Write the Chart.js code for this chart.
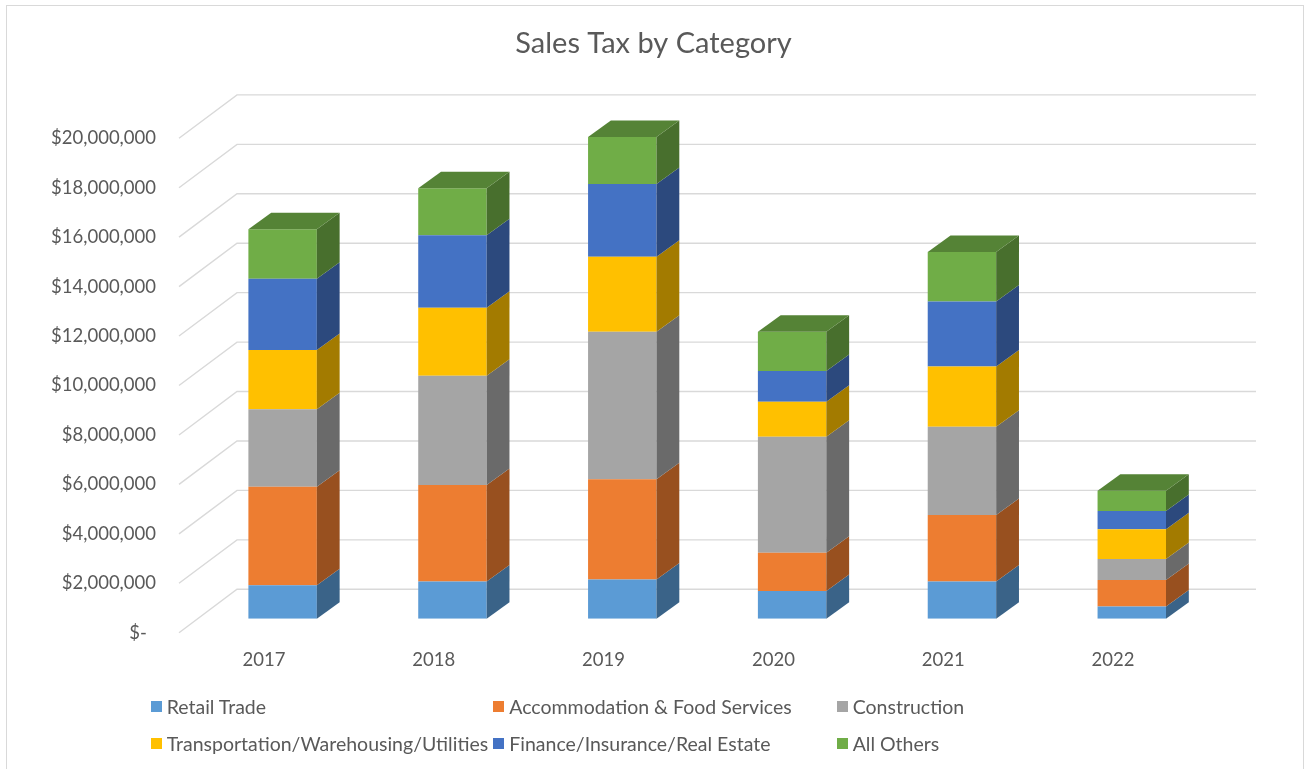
<!DOCTYPE html>
<html>
<head>
<meta charset="utf-8">
<script src="https://cdn.jsdelivr.net/npm/chart.js@4.4.1/dist/chart.umd.min.js"></script>
<style>
  html, body { margin: 0; padding: 0; background: #ffffff; overflow: hidden; }
  #wrap { position: relative; width: 1307px; height: 769px; }
  #frame { position: absolute; left: 6px; top: 5px; width: 1298px; height: 790px; border: 1.5px solid #D9D9D9; box-sizing: border-box; pointer-events: none; }
  canvas { position: absolute; left: 0; top: 0; }
  .lg { position: absolute; font-family: Lato, "Open Sans", sans-serif; font-size: 19.5px; color: #595959; white-space: nowrap; line-height: 20px; }
  .lg i { position: absolute; left: 0; top: 4px; width: 11px; height: 11px; }
  .lg span { position: absolute; left: 16px; top: 0; }
</style>
</head>
<body>
<div id="wrap">
  <div id="frame"></div>
  <canvas id="c" width="1307" height="769"></canvas>
</div>
<script>
// ---- data ----
const years = ['2017', '2018', '2019', '2020', '2021', '2022'];
const retailTrade     = [1350000, 1500000, 1590000, 1120000, 1500000, 490000];
const accommodation   = [3990000, 3910000, 4050000, 1550000, 2700000, 1080000];
const construction    = [3130000, 4420000, 5970000, 4690000, 3570000, 850000];
const transportation  = [2400000, 2750000, 3030000, 1420000, 2430000, 1200000];
const finance         = [2880000, 2930000, 2940000, 1240000, 2630000, 740000];
const allOthers       = [2000000, 1900000, 1910000, 1590000, 2000000, 820000];
const seriesNames = ['Retail Trade', 'Accommodation & Food Services', 'Construction',
                     'Transportation/Warehousing/Utilities', 'Finance/Insurance/Real Estate', 'All Others'];
const yTickValues = [0, 2000000, 4000000, 6000000, 8000000, 10000000, 12000000, 14000000, 16000000, 18000000, 20000000];

const seriesValues = [retailTrade, accommodation, construction, transportation, finance, allOthers];
const colors = ['#5B9BD5', '#ED7D31', '#A5A5A5', '#FFC000', '#4472C4', '#70AD47'];

function shade(hex, f) {
  const n = parseInt(hex.slice(1), 16);
  const r = Math.round(((n >> 16) & 255) * f), g = Math.round(((n >> 8) & 255) * f), b = Math.round((n & 255) * f);
  return 'rgb(' + r + ',' + g + ',' + b + ')';
}

// 3D geometry (oblique projection)
const BAR_DX = 22.8, BAR_DY = 16.5;     // bar depth
const FRONT_DX = 18.7, FRONT_DY = 14;   // bar front plane behind floor front edge
const WALL_DX = 58, WALL_DY = 43.4;     // floor depth

const threeD = {
  id: 'threeD',
  beforeDatasetsDraw(chart) {
    const ctx = chart.ctx, y = chart.scales.y, ca = chart.chartArea;
    ctx.save();
    ctx.strokeStyle = '#D9D9D9';
    ctx.lineWidth = 1.4;
    y.ticks.forEach(t => {
      const yb = y.getPixelForValue(t.value);
      const fx = ca.left - FRONT_DX, fy = yb + FRONT_DY;
      const bx = fx + WALL_DX, by = fy - WALL_DY;
      const ex = ca.right - FRONT_DX + WALL_DX;
      ctx.beginPath();
      ctx.moveTo(fx, fy);
      ctx.lineTo(bx, by);
      ctx.lineTo(ex, by);
      ctx.stroke();
    });
    ctx.restore();
  },
  afterDatasetsDraw(chart) {
    const ctx = chart.ctx;
    const n = chart.data.datasets.length;
    ctx.save();
    for (let d = 0; d < n; d++) {
      const meta = chart.getDatasetMeta(d);
      const col = chart.data.datasets[d].backgroundColor;
      meta.data.forEach(bar => {
        const p = bar.getProps(['x', 'y', 'base', 'width'], true);
        const x1 = p.x - p.width / 2, x2 = p.x + p.width / 2;
        const top = Math.min(p.y, p.base), bot = Math.max(p.y, p.base);
        ctx.fillStyle = shade(col, 0.64);
        ctx.beginPath();
        ctx.moveTo(x2, bot);
        ctx.lineTo(x2 + BAR_DX, bot - BAR_DY);
        ctx.lineTo(x2 + BAR_DX, top - BAR_DY);
        ctx.lineTo(x2, top);
        ctx.closePath();
        ctx.fill();
        if (d === n - 1) {
          ctx.fillStyle = shade(col, 0.76);
          ctx.beginPath();
          ctx.moveTo(x1, top);
          ctx.lineTo(x2, top);
          ctx.lineTo(x2 + BAR_DX, top - BAR_DY);
          ctx.lineTo(x1 + BAR_DX, top - BAR_DY);
          ctx.closePath();
          ctx.fill();
        }
      });
    }
    ctx.restore();
  }
};

const FONT = 'Lato, "Open Sans", sans-serif';
const datasets = seriesValues.map((vals, i) => ({
  label: seriesNames[i],
  data: vals,
  backgroundColor: colors[i],
  borderWidth: 0,
  barPercentage: 0.403,
  categoryPercentage: 1.0,
  yAxisID: 'y'
}));

new Chart(document.getElementById('c'), {
  type: 'bar',
  data: { labels: years, datasets },
  plugins: [threeD],
  options: {
    responsive: false,
    animation: false,
    layout: { padding: 0 },
    plugins: {
      legend: { display: false },
      tooltip: { enabled: false },
      title: {
        display: true,
        text: 'Sales Tax by Category',
        color: '#595959',
        font: { family: FONT, size: 29, weight: 'normal', lineHeight: 1.2 },
        padding: { top: 26.6, bottom: 124.3 - 26.6 - 34.8 }
      }
    },
    scales: {
      x: {
        stacked: true,
        grid: { display: false, drawTicks: false, tickLength: 0 },
        border: { display: false },
        ticks: { color: '#595959', font: { family: FONT, size: 18.5 }, labelOffset: -FRONT_DX, padding: 30, maxRotation: 0 },
        afterFit: s => { s.height = 769 - 618.7; }
      },
      y: {
        stacked: true,
        min: 0,
        max: 20000000,
        grid: { display: false, drawTicks: false, tickLength: 0 },
        border: { display: false },
        afterBuildTicks: s => { s.ticks = yTickValues.map(v => ({ value: v })); },
        ticks: {
          color: '#595959',
          font: { family: FONT, size: 18.5 },
          labelOffset: FRONT_DY,
          padding: 41.7,
          callback: v => v === 0 ? '$-\u2002' : '$' + Number(v).toLocaleString('en-US')
        },
        afterFit: s => { s.width = 197.7; }
      },
      yRight: {
        type: 'linear',
        position: 'right',
        min: 0,
        max: 20000000,
        grid: { display: false, drawTicks: false, tickLength: 0 },
        border: { display: false },
        ticks: { display: false },
        afterFit: s => { s.width = 90.3; }
      }
    }
  }
});

// HTML legend
const legendPos = [[150.7, 697], [493.3, 697], [836.7, 697], [150.7, 734], [493.3, 734], [836.7, 734]];
const wrap = document.getElementById('wrap');
seriesNames.forEach((name, i) => {
  const el = document.createElement('div');
  el.className = 'lg';
  el.style.left = legendPos[i][0] + 'px';
  el.style.top = legendPos[i][1] + 'px';
  el.innerHTML = '<i style="background:' + colors[i] + '"></i><span></span>';
  el.querySelector('span').textContent = name;
  wrap.appendChild(el);
});
</script>
</body>
</html>
